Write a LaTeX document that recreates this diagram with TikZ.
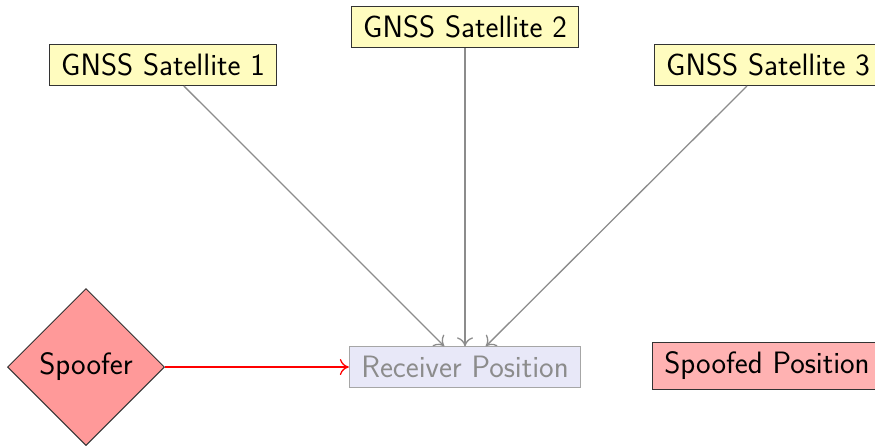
\documentclass[tikz,border=0pt]{standalone}
\usetikzlibrary{shapes.geometric,arrows.meta}
\definecolor{recfill}{RGB}{232,232,248}
\begin{document}
\begin{tikzpicture}[x=1pt,y=-1pt,
  font=\sffamily\fontsize{30.9}{37}\selectfont,
  box/.style={draw=black!80,line width=1pt,inner xsep=12pt,inner ysep=9.3pt},
  sat/.style={box,fill=yellow!25},
  sig/.style={draw=black!45,line width=1.3pt,-{To[length=9pt,width=16pt]}},
  spoofarrow/.style={draw=red,line width=1.3pt,-{To[length=9pt,width=16pt]}}]
\useasboundingbox (0,0) rectangle (875,445);
\clip (0,0) rectangle (875,445);
\node[sat] (s1) at (163,65) {GNSS Satellite 1};
\node[sat] (s2) at (465,27) {GNSS Satellite 2};
\node[sat] (s3) at (768,65) {GNSS Satellite 3};
\node[box,draw=black!35,fill=recfill,text=black!45] (rec) at (465,367) {Receiver Position};
\node[box,fill=red!30] (sp) at (767,366) {Spoofed Position};
\node[diamond,draw=black!80,line width=1pt,fill=red!40,inner sep=0pt,minimum width=157pt,minimum height=157pt] (spf) at (86,367) {Spoofer};
\draw[sig] (s1) -- (rec);
\draw[sig] (s2) -- (rec);
\draw[sig] (s3) -- (rec);
\draw[spoofarrow] (spf) -- (rec);
\end{tikzpicture}
\end{document}
